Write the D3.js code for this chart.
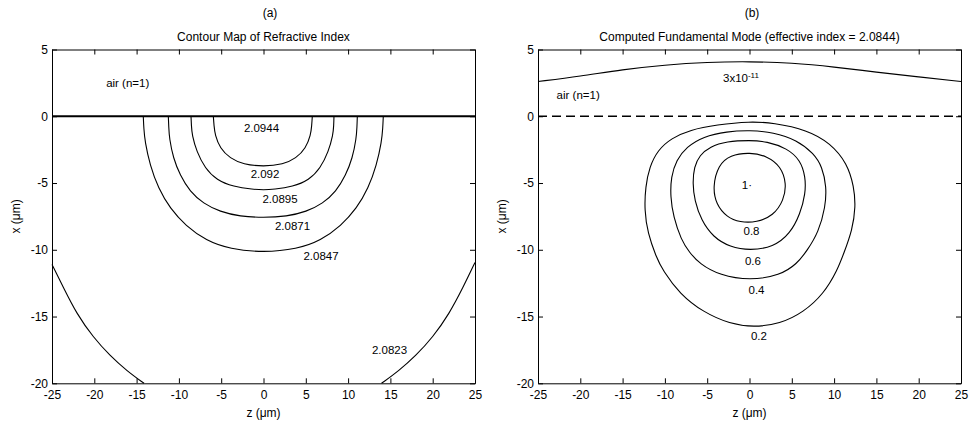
<!DOCTYPE html>
<html><head><meta charset="utf-8">
<script src="https://cdn.jsdelivr.net/npm/d3@7"></script>
<style>
body{margin:0;background:#fff}
text{font-family:"Liberation Sans",Arial,Helvetica,sans-serif;fill:#000}
</style>
</head><body>
<svg id="c" width="969" height="423" style="background:#fff"></svg>
<script>
// ---------- data ----------
const zTicks = [-25,-20,-15,-10,-5,0,5,10,15,20,25];
const xTicks = [5,0,-5,-10,-15,-20];
const zDomain = [-25,25];
const xDomain = [-20,5];

// panel (a): refractive index contours
const nLabels   = ["2.0944","2.092","2.0895","2.0871","2.0847","2.0823"];
const nLabelPos = [[-0.24,-0.9],[0.18,-4.35],[1.95,-6.23],[3.43,-8.25],[6.8,-10.5],[14.9,-17.5]];
const nSurface  = [[-25,0],[25,0]];
const n2092  = [[-5.93,0],[-5.85,-0.7],[-5.73,-1.4],[-5.14,-2.4],[-3.96,-3.15],[-2.39,-3.6],[0,-3.77],[2.33,-3.6],[3.85,-3.15],[5.0,-2.4],[5.58,-1.4],[5.7,-0.7],[5.77,0]];
const n20895 = [[-8.57,0],[-8.52,-0.7],[-8.45,-1.4],[-7.9,-2.65],[-6.91,-3.9],[-5.53,-4.78],[-3.57,-5.27],[-1.21,-5.48],[0,-5.52],[1.2,-5.48],[3.47,-5.27],[5.38,-4.78],[6.72,-3.9],[7.68,-2.65],[8.22,-1.4],[8.3,-0.7],[8.33,0]];
const n20871 = [[-11.25,0],[-11.2,-0.8],[-11.13,-1.65],[-10.66,-3.15],[-9.87,-4.4],[-8.69,-5.65],[-7.12,-6.53],[-5.14,-7.15],[-2.78,-7.5],[0,-7.6],[2.74,-7.5],[5.07,-7.15],[7.02,-6.53],[8.57,-5.65],[9.73,-4.4],[10.51,-3.15],[10.97,-1.65],[11.05,-0.8],[11.09,0]];
const n20847 = [[-14.21,0],[-14.15,-0.9],[-14.01,-1.9],[-13.42,-3.66],[-12.43,-5.4],[-11.05,-6.9],[-9.2,-8.2],[-6.8,-9.3],[-3.96,-9.95],[0,-10.2],[3.95,-9.95],[6.78,-9.3],[9.17,-8.2],[11.01,-6.9],[12.39,-5.4],[13.37,-3.66],[13.96,-1.9],[14.1,-0.9],[14.16,0]];
const n20823L = [[-25,-11.1],[-23.66,-12.81],[-22.08,-14.8],[-20.12,-16.56],[-18.14,-17.93],[-16.17,-19.06],[-14.12,-20]];
const n20823R = [[13.95,-20],[16.0,-19.06],[18.0,-17.93],[20.0,-16.56],[21.95,-14.8],[23.6,-12.81],[25,-10.95]];
const airLabelA = [-18.6,2.5];

// panel (b): computed fundamental mode contours
const modeLabels   = ["1·","0.8","0.6","0.4","0.2"];
const modeLabelPos = [[-0.3,-5.16],[0.24,-8.57],[0.41,-10.81],[0.83,-13.0],[1.12,-16.43]];
const mode08 = [[0.06,-2.7],[-2.3,-2.9],[-3.69,-3.66],[-4.35,-5.28],[-3.95,-6.6],[-2.7,-7.55],[-1.12,-7.95],[0.85,-7.95],[2.81,-7.45],[4.05,-6.3],[4.38,-5.03],[3.7,-3.75],[2.1,-2.98]];
const mode06 = [[0.06,-1.8],[-2.7,-1.88],[-4.67,-2.27],[-5.9,-2.92],[-6.55,-3.79],[-6.72,-5.03],[-6.5,-6.3],[-5.7,-7.8],[-4.3,-9.05],[-2.3,-9.8],[0.06,-10.05],[2.81,-9.8],[4.8,-8.8],[6.0,-7.3],[6.62,-5.78],[6.62,-4.54],[6.02,-3.29],[4.45,-2.4],[2.03,-1.88]];
const mode04 = [[0.06,-1.05],[-2.7,-1.14],[-5.46,-1.52],[-7.45,-2.3],[-8.65,-3.29],[-9.28,-4.54],[-9.35,-6.03],[-9.0,-7.52],[-8.08,-9.26],[-7.1,-10.2],[-5.9,-11.05],[-3.5,-11.92],[0.06,-12.3],[3.61,-11.92],[5.62,-11.05],[6.82,-10.05],[8.15,-8.7],[8.98,-6.78],[9.1,-5.28],[8.6,-3.79],[7.6,-2.79],[5.6,-1.78],[2.81,-1.2]];
const mode02 = [[0.06,-0.38],[-3.88,-0.64],[-7.03,-1.02],[-9.25,-1.65],[-10.85,-2.54],[-11.82,-3.79],[-12.3,-5.28],[-12.42,-7.02],[-12.03,-8.76],[-11.05,-10.5],[-10.25,-11.55],[-8.25,-13.3],[-5.46,-14.68],[-2.3,-15.55],[0.45,-15.8],[3.61,-15.55],[6.38,-14.68],[8.77,-13.3],[10.37,-11.55],[11.15,-10.26],[12.15,-8.52],[12.55,-6.78],[12.35,-5.28],[11.56,-3.54],[9.58,-2.02],[6.8,-1.02],[2.81,-0.5]];
const modeTail = [[-25,2.6],[-20,3.0],[-15,3.5],[-10,3.85],[-5,4.05],[0,4.1],[5,4.0],[10,3.7],[15,3.3],[20,2.95],[25,2.6]];
const tailLabelPos = [-3.13,2.9];
const airLabelB = [-22.8,1.62];
const surfaceB = [[-25,0],[25,0]];

// ---------- drawing ----------
const svg = d3.select("#c");
const FS = 12;

function panel(x0, x1, titleTag, title, tagX) {
  const g = svg.append("g");
  const sx = d3.scaleLinear().domain(zDomain).range([x0, x1]);
  const sy = d3.scaleLinear().domain(xDomain).range([383.3, 49.5]);
  const fmt = d => String(d);
  const ax = (a, labels) => {
    a.tickSizeInner(-5).tickSizeOuter(0);
    if (!labels) a.tickFormat("");
    return a;
  };
  const style = sel => {
    sel.selectAll("text").style("font-size", FS + "px").attr("fill", "#000")
       .style("font-family", '"Liberation Sans",Arial,sans-serif');
    sel.selectAll("line,path").attr("stroke", "#000").attr("stroke-width", 1);
    sel.attr("font-size", null).attr("font-family", null);
  };
  g.append("g").attr("transform", `translate(0,${sy(-20)})`)
    .call(ax(d3.axisBottom(sx).tickValues(zTicks).tickFormat(fmt), true).tickPadding(7)).call(style);
  g.append("g").attr("transform", `translate(0,${sy(5)})`)
    .call(ax(d3.axisTop(sx).tickValues(zTicks), false)).call(style);
  g.append("g").attr("transform", `translate(${x0},0)`)
    .call(ax(d3.axisLeft(sy).tickValues(xTicks).tickFormat(fmt), true).tickPadding(4)).call(style);
  g.append("g").attr("transform", `translate(${x1},0)`)
    .call(ax(d3.axisRight(sy).tickValues(xTicks), false)).call(style);

  const cx = (x0 + x1) / 2;
  g.append("text").attr("x", tagX).attr("y", 17).attr("text-anchor", "middle")
    .style("font-size", FS + "px").text(titleTag);
  g.append("text").attr("x", cx).attr("y", 40.5).attr("text-anchor", "middle")
    .style("font-size", FS + "px").text(title);
  g.append("text").attr("x", cx).attr("y", 417).attr("text-anchor", "middle")
    .style("font-size", FS + "px").text("z (μm)");
  g.append("text").attr("transform", `translate(${x0 - 36},${(sy(5) + sy(-20)) / 2}) rotate(-90)`)
    .attr("text-anchor", "middle").attr("dy", "0.35em")
    .style("font-size", FS + "px").text("x (μm)");
  return {g, sx, sy};
}

function label(P, pos, txt, anchor) {
  return P.g.append("text").attr("x", P.sx(pos[0])).attr("y", P.sy(pos[1]))
    .attr("dy", "0.35em").attr("text-anchor", anchor || "middle")
    .style("font-size", "11.5px").text(txt);
}

// Panel (a)
const A = panel(52, 475, "(a)", "Contour Map of Refractive Index", 270);
const lineA = d3.line().x(d => A.sx(d[0])).y(d => A.sy(d[1])).curve(d3.curveBasis);
[n2092, n20895, n20871, n20847, n20823L, n20823R].forEach(c =>
  A.g.append("path").attr("d", lineA(c)).attr("fill", "none").attr("stroke", "#000").attr("stroke-width", 1.1));
A.g.append("path").attr("d", d3.line().x(d => A.sx(d[0])).y(d => A.sy(d[1]))(nSurface))
  .attr("fill", "none").attr("stroke", "#000").attr("stroke-width", 2);
nLabels.forEach((t, i) => label(A, nLabelPos[i], t));
label(A, airLabelA, "air (n=1)", "start");

// Panel (b)
const B = panel(538, 961, "(b)", "Computed Fundamental Mode (effective index = 2.0844)", 752);
const lineBc = d3.line().x(d => B.sx(d[0])).y(d => B.sy(d[1])).curve(d3.curveBasisClosed);
[mode08, mode06, mode04, mode02].forEach(c =>
  B.g.append("path").attr("d", lineBc(c)).attr("fill", "none").attr("stroke", "#000").attr("stroke-width", 1.1));
B.g.append("path")
  .attr("d", d3.line().x(d => B.sx(d[0])).y(d => B.sy(d[1])).curve(d3.curveBasis)(modeTail))
  .attr("fill", "none").attr("stroke", "#000").attr("stroke-width", 1.1);
B.g.append("path").attr("d", d3.line().x(d => B.sx(d[0])).y(d => B.sy(d[1]))(surfaceB))
  .attr("fill", "none").attr("stroke", "#000").attr("stroke-width", 1.3).attr("stroke-dasharray", "9,5");
modeLabels.forEach((t, i) => label(B, modeLabelPos[i], t));
label(B, airLabelB, "air (n=1)", "start");
const tl = label(B, tailLabelPos, "3x10", "start");
tl.append("tspan").attr("dy", "-0.45em").style("font-size", "8px").text("-11");
</script>
</body></html>
